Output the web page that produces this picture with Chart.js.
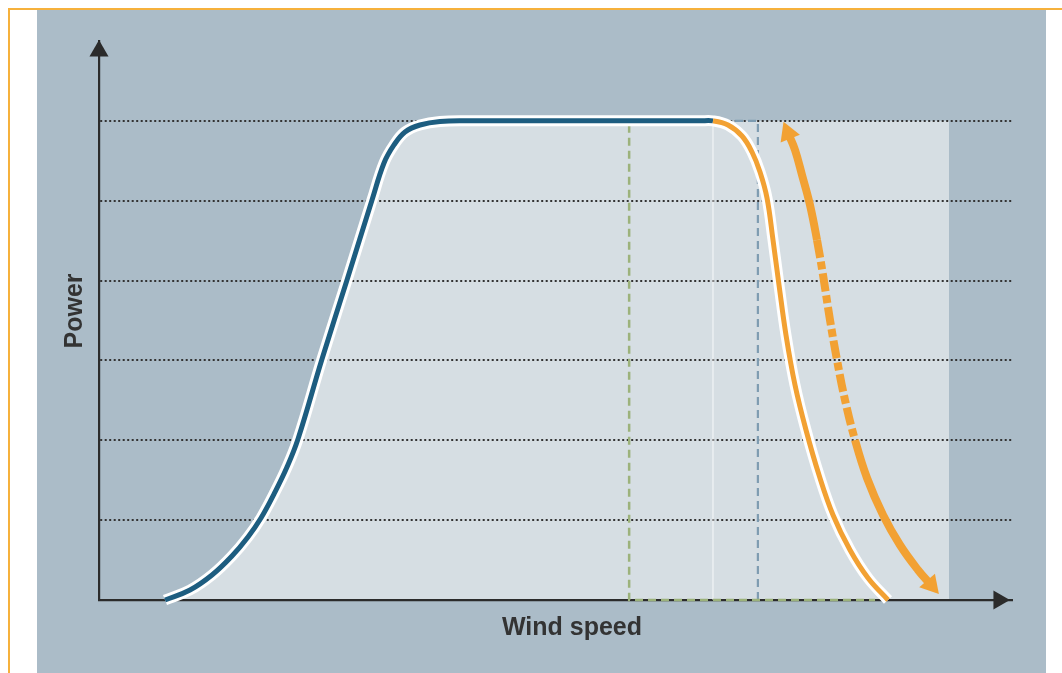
<!DOCTYPE html>
<html>
<head>
<meta charset="utf-8">
<title>Power curve</title>
<script src="https://cdn.jsdelivr.net/npm/chart.js@4.4.1/dist/chart.umd.min.js"></script>
<style>
    html, body { margin: 0; padding: 0; background: #ffffff; }
    #frame { position: relative; width: 1062px; height: 673px; overflow: hidden; }
    #ruleTop { position: absolute; left: 8px; top: 8px; width: 1054px; height: 2px; background: #f6b13c; }
    #ruleLeft { position: absolute; left: 8px; top: 8px; width: 2px; height: 665px; background: #f6b13c; }
    #panel { position: absolute; left: 37px; top: 10px; width: 1009px; height: 663px; background: #abbcc8; }
    #powerChart { position: absolute; left: 0; top: 0; }
</style>
</head>
<body>
<div id="frame">
    <div id="ruleTop"></div>
    <div id="ruleLeft"></div>
    <div id="panel"></div>
    <canvas id="powerChart" width="1062" height="673"></canvas>
</div>
<script>
// --- data (wind speed / power, arbitrary units) ---
const xTitle = 'Wind speed';
const yTitle = 'Power';

// rising part of the curve (same for the real and the ideal curve)
const speedRise = [2.169, 2.990, 3.713, 4.370, 4.896, 5.323, 5.750, 6.178, 6.539, 7.328, 8.149,
                   8.971, 9.365, 9.693, 10.055, 10.548, 11.205, 12.191];
const powerRise = [0, 0.125, 0.313, 0.551, 0.789, 1.027, 1.327, 1.665, 2.016, 3.018, 4.007,
                   5.009, 5.472, 5.698, 5.861, 5.948, 5.992, 6];

// rated plateau end, then high-wind cut-out drop
const speedFall = [19.748, 20.175, 20.668, 21.128, 21.457, 21.720, 21.950, 22.147, 22.344, 22.574,
                   22.870, 23.231, 23.659, 24.119, 24.677, 25.269, 25.926];
const powerFall = [6, 6, 5.948, 5.810, 5.610, 5.360, 5.034, 4.508, 3.945, 3.318,
                   2.692, 2.129, 1.565, 1.064, 0.626, 0.275, 0];
const cutoutSpeed = 20.175;

// ideal curve keeps the plateau until here (shaded area)
const speedIdealEnd = [27.93];
const powerIdealEnd = [6];

// markers
const speedGreen = [17.42, 17.42, 25.5];
const powerGreen = [5.95, 0, 0];
const speedGrey = [20.9, 21.65, 21.65];
const powerGrey = [6, 6, 0];
const speedFaint = [20.175, 20.175];
const powerFaint = [0, 6];

// double arrow beside the drop
const speedArrow = [22.640, 22.870, 23.100, 23.363, 23.593, 23.790, 24.020, 24.250, 24.513, 24.842,
                    25.236, 25.762, 26.320, 26.912, 27.339];
const powerArrow = [5.848, 5.635, 5.322, 4.946, 4.508, 4.070, 3.506, 3.005, 2.504, 2.004,
                    1.528, 1.064, 0.689, 0.376, 0.188];

// axis arrow heads
const speedAxisHead = [0, 29.57];
const powerAxisHead = [6.875, 0];

const blue = '#1d5d80';
const orange = '#f2a133';
const dark = '#2b2b2b';

function toPoints(xs, ys) {
    return xs.map((x, i) => ({ x: x, y: ys[i] }));
}

const curvePoints = toPoints(speedRise.concat(speedFall), powerRise.concat(powerFall));
const idealPoints = toPoints(speedRise.concat(speedIdealEnd), powerRise.concat(powerIdealEnd));

// axis titles drawn on top
const axisLabels = {
    id: 'axisLabels',
    afterDraw(chart) {
        const ctx = chart.ctx;
        ctx.save();
        ctx.fillStyle = '#333333';
        ctx.font = 'bold 25px "Liberation Sans", Arial, sans-serif';
        ctx.textAlign = 'center';
        ctx.textBaseline = 'middle';
        ctx.fillText(xTitle, 572, 628);
        ctx.translate(75, 311);
        ctx.rotate(-Math.PI / 2);
        ctx.fillText(yTitle, 0, 0);
        ctx.restore();
    }
};

const lastArrow = speedArrow.length - 1;

new Chart(document.getElementById('powerChart'), {
    type: 'line',
    data: {
        datasets: [
            {   // shaded ideal area
                data: idealPoints,
                fill: 'origin',
                backgroundColor: '#d6dee3',
                borderWidth: 0,
                pointRadius: 0,
                tension: 0.4,
                order: 10
            },
            {
                data: toPoints(speedFaint, powerFaint),
                borderColor: 'rgba(255,255,255,0.55)',
                borderWidth: 1.5,
                pointRadius: 0,
                order: 9
            },
            {
                data: toPoints(speedGreen, powerGreen),
                borderColor: '#9cb27b',
                borderWidth: 2.5,
                borderDash: [8, 5],
                pointRadius: 0,
                clip: false,
                order: 8
            },
            {
                data: toPoints(speedGrey, powerGrey),
                borderColor: '#7e9cb1',
                borderWidth: 2.2,
                borderDash: [8, 5],
                pointRadius: 0,
                order: 8
            },
            {   // white halo
                data: curvePoints,
                borderColor: '#ffffff',
                borderWidth: 11,
                pointRadius: 0,
                tension: 0.4,
                clip: false,
                order: 7
            },
            {
                data: curvePoints,
                borderColor: blue,
                borderWidth: 5,
                pointRadius: 0,
                tension: 0.4,
                segment: {
                    borderColor: c => c.p0.parsed.x >= cutoutSpeed ? orange : blue
                },
                clip: false,
                order: 6
            },
            {
                data: toPoints(speedArrow, powerArrow),
                borderColor: orange,
                borderWidth: 8,
                borderCapStyle: 'butt',
                tension: 0.4,
                pointStyle: 'triangle',
                pointRadius: speedArrow.map((s, i) => (i === 0 || i === lastArrow) ? 12 : 0),
                pointRotation: speedArrow.map((s, i) => i === 0 ? -22 : 139),
                pointBackgroundColor: orange,
                pointBorderWidth: 0,
                segment: {
                    borderDash: c => (c.p0DataIndex >= 4 && c.p0DataIndex <= 8) ? [18, 4, 8, 4] : undefined
                },
                clip: false,
                order: 5
            },
            {
                data: toPoints(speedAxisHead, powerAxisHead),
                showLine: false,
                pointStyle: 'triangle',
                pointRadius: 11,
                pointRotation: [0, 90],
                pointBackgroundColor: dark,
                pointBorderWidth: 0,
                clip: false,
                order: 4
            }
        ]
    },
    options: {
        responsive: false,
        animation: false,
        events: [],
        layout: { padding: { left: 99, right: 50, top: 41, bottom: 73 } },
        scales: {
            x: {
                type: 'linear',
                min: 0,
                max: 30,
                ticks: { display: false },
                grid: { display: false, drawTicks: false },
                border: { display: true, color: dark, width: 2.2 },
                afterFit: s => { s.height = 0; }
            },
            y: {
                type: 'linear',
                min: 0,
                max: 7,
                ticks: { display: false, stepSize: 1 },
                grid: {
                    drawTicks: false,
                    lineWidth: 2,
                    color: c => (c.tick && c.tick.value > 0 && c.tick.value < 7) ? '#333333' : 'rgba(0,0,0,0)'
                },
                border: { display: true, color: dark, width: 2.2, dash: [2, 2.5] },
                afterFit: s => { s.width = 0; }
            }
        },
        plugins: {
            legend: { display: false },
            tooltip: { enabled: false },
            filler: { drawTime: 'beforeDraw' }
        }
    },
    plugins: [axisLabels]
});
</script>
</body>
</html>
